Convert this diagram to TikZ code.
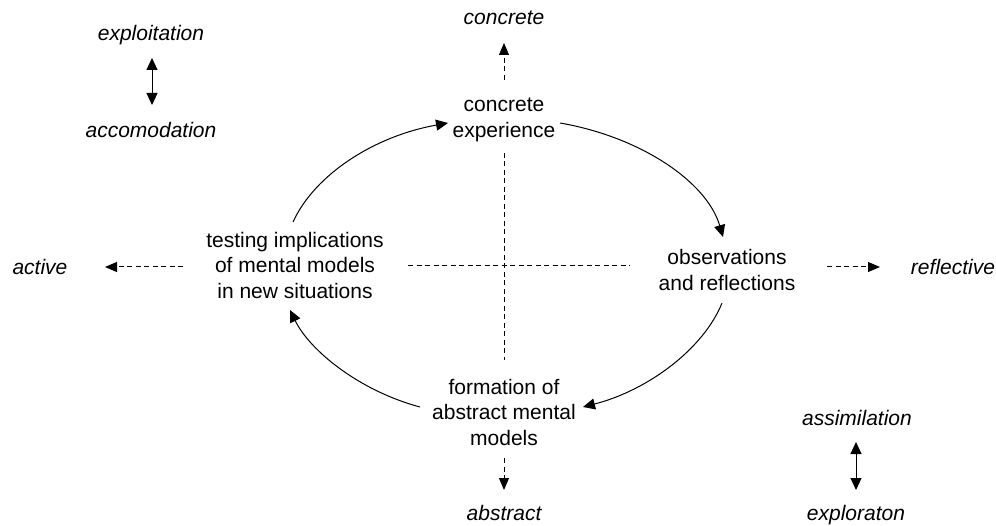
\documentclass[tikz,border=0pt]{standalone}
\usepackage{fontspec}
\setmainfont{Liberation Sans}
\usetikzlibrary{arrows.meta,calc}
\begin{document}
\begin{tikzpicture}[x=1pt,y=-1pt,
  txt/.style={align=center,inner sep=0pt,font=\fontsize{21}{25.5}\selectfont},
  itx/.style={txt,font=\fontsize{21}{25.5}\selectfont\itshape},
  cyc/.style={line width=1pt,-{Triangle[length=12pt,width=11pt]}},
  dsh/.style={line width=1pt,dash pattern=on 5pt off 3.5pt},
  dar/.style={dsh,-{Triangle[length=12pt,width=10pt]}},
  dbl/.style={line width=1pt,{Triangle[length=12pt,width=11pt]}-{Triangle[length=12pt,width=11pt]}}]
\useasboundingbox (0,0) rectangle (996,526);
% nodes
\node[itx] (expl) at (151,35) {exploitation};
\node[itx] (acco) at (151,130) {accomodation};
\node[itx] (concL) at (504,18) {concrete};
\node[txt] (conc) at (504,120) {concrete\\experience};
\node[txt] (test) at (295,265) {testing implications\\of mental models\\in new situations};
\node[txt] (obs) at (727,270) {observations\\and reflections};
\node[txt] (form) at (504,412) {formation of\\abstract mental\\models};
\node[itx] (active) at (40,267) {active};
\node[itx] (refl) at (953,267) {reflective};
\node[itx] (abstr) at (504,513) {abstract};
\node[itx] (assim) at (857,418) {assimilation};
\node[itx] (explor) at (856,515) {exploraton};
% cycle arcs
\draw[cyc] ($(test.center)+(-2,-43)$) .. controls +(22,-48) and +(-73,13) .. ($(conc.center)+(-56,3)$);
\draw[cyc] ($(conc.center)+(56,3)$) .. controls +(81,14) and +(-16,-55) .. ($(obs.center)+(-4,-33)$);
\draw[cyc] ($(obs.center)+(-5,33)$) .. controls +(-18,45) and +(66,-17) .. ($(form.center)+(79,-5)$);
\draw[cyc] ($(form.center)+(-84,-5)$) .. controls +(-60,-16) and +(20,41) .. ($(test.center)+(-5,45)$);
% cross
\draw[dsh] ($(conc.center)+(0,33)$) -- ($(form.center)+(0,-52)$);
\draw[dsh] ($(test.center)+(113,1)$) -- ($(obs.center)+(-97,-4)$);
% dashed arrows
\draw[dar] ($(conc.center)+(0,-40)$) -- ($(concL.center)+(0,25)$);
\draw[dar] ($(test.center)+(-112,2)$) -- ($(active.center)+(65,0)$);
\draw[dar] ($(obs.center)+(100,-3)$) -- ($(refl.center)+(-73,0)$);
\draw[dar] ($(form.center)+(0,46)$) -- ($(abstr.center)+(0,-23)$);
% double arrows
\draw[dbl] ($(expl.center)+(1,23)$) -- ($(acco.center)+(1,-25)$);
\draw[dbl] ($(assim.center)+(-1,24)$) -- ($(explor.center)+(0,-25)$);
\end{tikzpicture}
\end{document}
